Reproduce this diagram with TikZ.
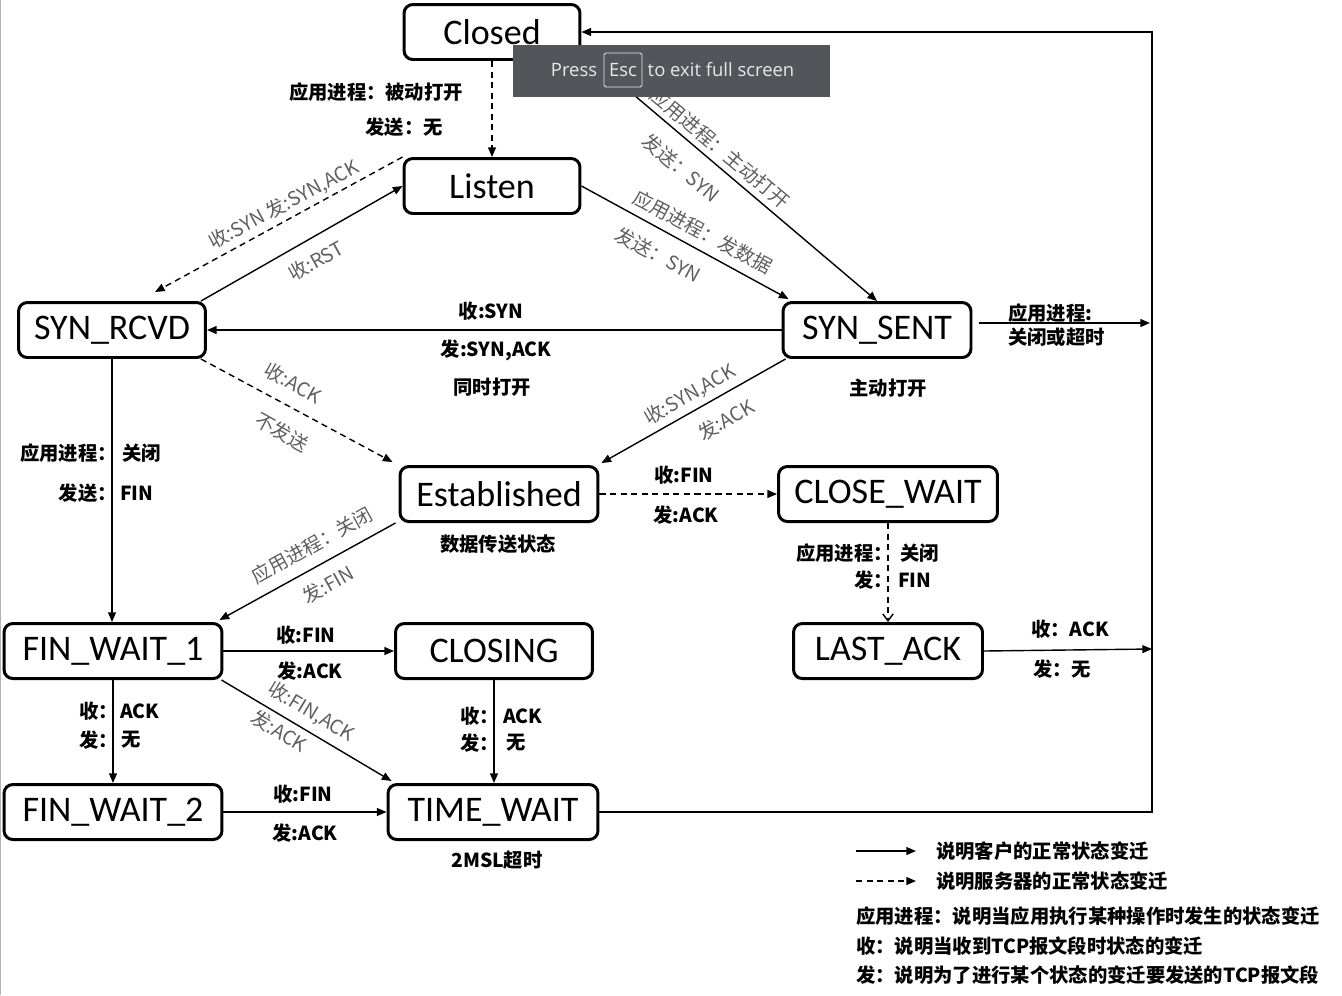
\documentclass[tikz,border=0pt]{standalone}
\usepackage{fontspec}
\setmainfont{Carlito}
\newfontfamily\cjk{Noto Sans CJK SC}
\newfontfamily\barfont{Open Sans}
\usetikzlibrary{arrows.meta, calc}
\definecolor{labelgray}{RGB}{95, 95, 95}
\definecolor{bargray}{RGB}{82, 85, 89}
\definecolor{bartext}{RGB}{232, 232, 232}

\begin{document}
\begin{tikzpicture}[x=0.02cm, y=-0.02cm,
    state/.style={draw, line width=1.7pt, rounded corners=5pt, minimum height=1.1cm, inner sep=0pt, font=\fontsize{20.5}{24}\selectfont},
    arrow/.style={-{Triangle[length=5.5pt, width=4.5pt]}, line width=0.8pt},
    dasharrow/.style={arrow, dash pattern=on 3.5pt off 2.5pt},
    lbl/.style={font=\cjk\bfseries\fontsize{11}{13}\selectfont, inner sep=1pt},
    glbl/.style={text=labelgray, font=\cjk\fontsize{11}{13}\selectfont, inner sep=1pt}
]
    \useasboundingbox[fill=white] (0,0) rectangle (1342,995);
    \draw[gray!60, line width=0.8pt] (0.5,0) -- (0.5,995);

    % States
    \node[state, minimum width=3.52cm] (closed) at (492,32) {Closed};
    \node[state, minimum width=3.52cm] (listen) at (492,186) {Listen};
    \node[state, minimum width=3.74cm] (synrcvd) at (112,330) {SYN\_RCVD};
    \node[state, minimum width=3.76cm] (synsent) at (877,330) {SYN\_SENT};
    \node[state, minimum width=3.96cm] (est) at (499,494) {Established};
    \node[state, minimum width=4.38cm] (closewait) at (888,494) {CLOSE\_WAIT};
    \node[state, minimum width=4.36cm] (finwait1) at (113,651) {FIN\_WAIT\_1};
    \node[state, minimum width=3.94cm] (closing) at (494,651) {CLOSING};
    \node[state, minimum width=3.78cm] (lastack) at (888,651) {LAST\_ACK};
    \node[state, minimum width=4.36cm] (finwait2) at (113,812) {FIN\_WAIT\_2};
    \node[state, minimum width=4.20cm] (timewait) at (493,812) {TIME\_WAIT};

    % Rail on the right
    \coordinate (railtop) at (1152,32);
    \coordinate (railsyn) at (1150,323);
    \coordinate (raillast) at (1152,649);

    % Arrows
    \draw[dasharrow] (closed) -- (listen);
    \draw[arrow] ($(closed.south east)+(3,-8)$) -- (synsent.north);
    \draw[arrow] (listen.east) -- ($(synsent.north west)+(7,-2)$);
    \draw[dasharrow] (listen.north west) -- ($(synrcvd.north)+(43,-9)$);
    \draw[arrow] ($(synrcvd.north east)+(-6,0)$) -- (listen.west);
    \draw[arrow] (synsent.west) -- (synrcvd.east);
    \draw[arrow] ($(synsent.east)+(7,-7)$) -- (railsyn);
    \draw[dasharrow] ($(synrcvd.south east)+(-6,0)$) -- ($(est.north west)+(-6,-3)$);
    \draw[arrow] ($(synsent.south west)+(4,0)$) -- ($(est.north east)+(2,-2)$);
    \draw[dasharrow] (est) -- (closewait);
    \draw[line width=0.8pt, dash pattern=on 3.5pt off 2.5pt, -{Straight Barb[length=4pt, width=6pt]}] (closewait) -- (lastack);
    \draw[arrow] (synrcvd.south) -- (synrcvd.south |- finwait1.north);
    \draw[arrow] ($(est.south west)+(-3,0)$) -- ($(finwait1.north east)+(-4,-2)$);
    \draw[arrow] (finwait1) -- (closing);
    \draw[arrow] ($(finwait1.south east)+(-2,0)$) -- ($(timewait.north west)+(5,-2)$);
    \draw[arrow] (finwait1) -- (finwait2);
    \draw[arrow] (closing.south) -- (closing.south |- timewait.north);
    \draw[arrow] (finwait2) -- (timewait);
    \draw[arrow] (lastack.east) -- (raillast);
    \draw[arrow] (timewait.east) -| (railtop) -- (closed.east);

    % Labels
    \node[lbl] at (376,92) {应用进程：被动打开};
    \node[lbl] at (404,127) {发送：无};
    \node[glbl, rotate=-40] at (720,148) {应用进程：主动打开};
    \node[glbl, rotate=-40] at (681,168) {发送：SYN};
    \node[glbl, rotate=-28] at (703,232) {应用进程：发数据};
    \node[glbl, rotate=-28] at (658,255) {发送：SYN};
    \node[glbl, rotate=28] at (284,205) {收:SYN 发:SYN,ACK};
    \node[glbl, rotate=29] at (316,261) {收:RST};
    \node[lbl] at (491,311) {收:SYN};
    \node[lbl] at (496,350) {发:SYN,ACK};
    \node[lbl] at (492,387) {同时打开};
    \node[lbl, anchor=west] at (1006,313) {应用进程:};
    \node[lbl, anchor=west] at (1006,337) {关闭或超时};
    \node[lbl] at (888,388) {主动打开};
    \node[glbl, rotate=-29] at (293,383) {收:ACK};
    \node[glbl, rotate=-29] at (282,432) {不发送};
    \node[glbl, rotate=30] at (690,395) {收:SYN,ACK};
    \node[glbl, rotate=30] at (726,420) {发:ACK};
    \node[lbl] at (684,475) {收:FIN};
    \node[lbl] at (686,515) {发:ACK};
    \node[lbl] at (498,544) {数据传送状态};
    \node[lbl, anchor=east] at (895,553) {应用进程：};
    \node[lbl, anchor=west] at (898,553) {关闭};
    \node[lbl, anchor=east] at (895,580) {发：};
    \node[lbl, anchor=west] at (896,580) {FIN};
    \node[lbl, anchor=east] at (119,453) {应用进程：};
    \node[lbl, anchor=west] at (120,453) {关闭};
    \node[lbl, anchor=east] at (119,493) {发送：};
    \node[lbl, anchor=west] at (118,493) {FIN};
    \node[glbl, rotate=29] at (312,545) {应用进程：关闭};
    \node[glbl, rotate=29] at (328,585) {发:FIN};
    \node[lbl] at (306,635) {收:FIN};
    \node[lbl] at (310,671) {发:ACK};
    \node[glbl, rotate=-31] at (311,712) {收:FIN,ACK};
    \node[glbl, rotate=-31] at (279,731) {发:ACK};
    \node[lbl, anchor=east] at (120,711) {收：};
    \node[lbl, anchor=west] at (118,711) {ACK};
    \node[lbl, anchor=east] at (120,740) {发：};
    \node[lbl, anchor=west] at (119,740) {无};
    \node[lbl, anchor=east] at (501,716) {收：};
    \node[lbl, anchor=west] at (501,716) {ACK};
    \node[lbl, anchor=east] at (501,743) {发：};
    \node[lbl, anchor=west] at (504,743) {无};
    \node[lbl] at (1070,629) {收：ACK};
    \node[lbl] at (1062,669) {发：无};
    \node[lbl] at (303,794) {收:FIN};
    \node[lbl] at (305,833) {发:ACK};
    \node[lbl] at (497,860) {2MSL超时};

    % Legend
    \coordinate (solida) at (856,851);
    \coordinate (solidb) at (916,851);
    \coordinate (dasha) at (856,881);
    \coordinate (dashb) at (916,881);
    \draw[arrow] (solida) -- (solidb);
    \draw[dasharrow] (dasha) -- (dashb);
    \node[lbl, anchor=west] at (934,851) {说明客户的正常状态变迁};
    \node[lbl, anchor=west] at (934,881) {说明服务器的正常状态变迁};
    \node[lbl, anchor=west] at (854,916) {应用进程：说明当应用执行某种操作时发生的状态变迁};
    \node[lbl, anchor=west] at (854,946) {收：说明当收到TCP报文段时状态的变迁};
    \node[lbl, anchor=west] at (854,975) {发：说明为了进行某个状态的变迁要发送的TCP报文段};

    % Full screen notice
    \node[fill=bargray, minimum width=6.34cm, minimum height=1.04cm, inner sep=0pt, anchor=north west] (bar) at (513,45) {};
    \node[text=bartext, font=\barfont\fontsize{10.5}{12}\selectfont] (press) at (574,70) {Press};
    \node[draw=bartext, text=bartext, line width=0.5pt, rounded corners=1pt, minimum width=0.76cm, minimum height=0.68cm, inner sep=0pt, font=\barfont\fontsize{10.5}{12}\selectfont] (esc) at (623,70) {Esc};
    \node[text=bartext, font=\barfont\fontsize{10.5}{12}\selectfont] (exit) at (721,70) {to exit full screen};
\end{tikzpicture}
\end{document}
